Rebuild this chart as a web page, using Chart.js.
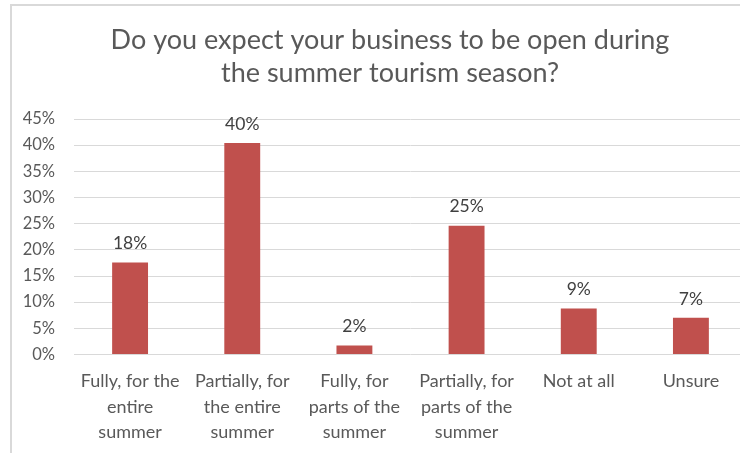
<!DOCTYPE html>
<html>
<head>
<meta charset="utf-8">
<script src="https://cdn.jsdelivr.net/npm/chart.js@4.4.1/dist/chart.umd.min.js"></script>
<style>
  html, body { margin: 0; padding: 0; background: #fff; overflow: hidden; }
  #frame {
    position: absolute; left: 10px; top: 4px; width: 800px; height: 500px;
    border-left: 2px solid #d9d9d9; border-top: 2px solid #d9d9d9;
  }
  #bar-chart { position: absolute; left: 0; top: 0; }
</style>
</head>
<body>
<div id="frame"></div>
<canvas id="bar-chart" width="760" height="459"></canvas>
<script>
'use strict';

// data
const categories = [
  ['Fully, for the', 'entire', 'summer'],
  ['Partially, for', 'the entire', 'summer'],
  ['Fully, for', 'parts of the', 'summer'],
  ['Partially, for', 'parts of the', 'summer'],
  ['Not at all'],
  ['Unsure']
];
const shares = [17.6, 40.4, 1.7, 24.6, 8.8, 7.0];
const shareLabels = ['18%', '40%', '2%', '25%', '9%', '7%'];
const titleLines = ['Do you expect your business to be open during', 'the summer tourism season?'];

const FONT = 'Lato';

// labels above the bars
const barLabels = {
  id: 'barLabels',
  afterDatasetsDraw(chart) {
    const ctx = chart.ctx;
    const meta = chart.getDatasetMeta(0);
    ctx.save();
    ctx.font = '17.5px ' + FONT;
    ctx.fillStyle = '#404040';
    ctx.textAlign = 'center';
    ctx.textBaseline = 'middle';
    meta.data.forEach((bar, i) => {
      ctx.fillText(shareLabels[i], bar.x, bar.y - 19);
    });
    ctx.restore();
  }
};

// the title is centred a bit right of the canvas middle, like the original
const chartTitle = {
  id: 'chartTitle',
  afterDraw(chart) {
    const ctx = chart.ctx;
    ctx.save();
    ctx.font = '27px ' + FONT;
    ctx.fillStyle = '#595959';
    ctx.textAlign = 'center';
    ctx.textBaseline = 'middle';
    titleLines.forEach((line, i) => {
      ctx.fillText(line, 390, 40.5 + i * 33);
    });
    ctx.restore();
  }
};

const barChart = new Chart(document.querySelector('#bar-chart'), {
  type: 'bar',
  data: {
    labels: categories,
    datasets: [{
      data: shares,
      backgroundColor: '#C0504D',
      borderWidth: 0,
      barPercentage: 1,
      categoryPercentage: 0.32
    }]
  },
  options: {
    responsive: false,
    animation: false,
    devicePixelRatio: 1,
    layout: {
      padding: {top: 119, left: 14, right: 13, bottom: 0}
    },
    plugins: {
      legend: {display: false},
      tooltip: {enabled: false},
      title: {display: false}
    },
    scales: {
      x: {
        grid: {display: false, drawTicks: false},
        border: {display: false},
        ticks: {
          color: '#595959',
          font: {family: FONT, size: 18, lineHeight: '25.5px'},
          padding: 14,
          maxRotation: 0,
          autoSkip: false
        }
      },
      y: {
        min: 0,
        max: 45,
        afterFit(scale) { scale.width = 60; },
        grid: {color: '#d9d9d9', lineWidth: 1, drawTicks: false},
        border: {display: false},
        ticks: {
          stepSize: 5,
          color: '#595959',
          font: {family: FONT, size: 16.5},
          padding: 19,
          callback: value => value + '%'
        }
      }
    }
  },
  plugins: [barLabels, chartTitle]
});
</script>
</body>
</html>
